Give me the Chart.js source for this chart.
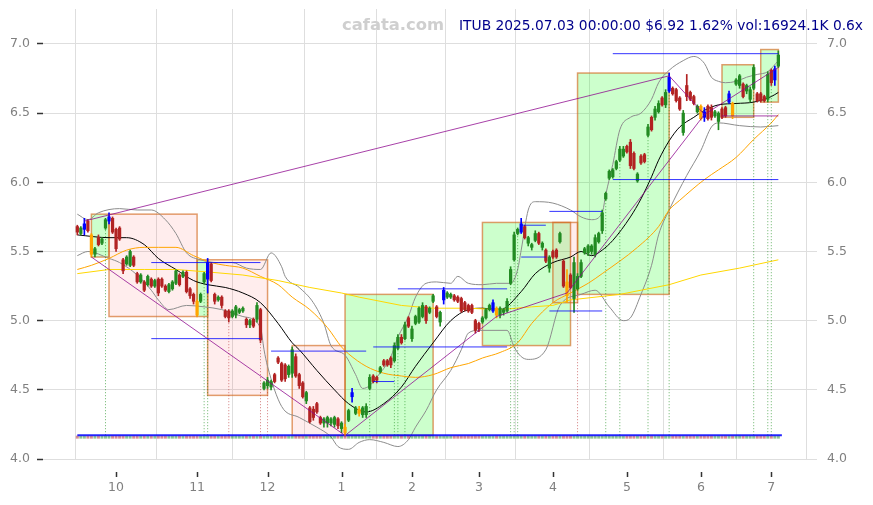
<!DOCTYPE html>
<html>
<head>
<meta charset="utf-8">
<title>ITUB</title>
<script src="https://cdn.jsdelivr.net/npm/chart.js@4.4.1/dist/chart.umd.min.js"></script>
<style>
  html, body { margin: 0; padding: 0; background: #fff; }
  #wrap { width: 873px; height: 505px; }
</style>
</head>
<body>
<div id="wrap"><canvas id="chart" width="873" height="505"></canvas></div>
<script>
// Daily candles, 2024-09-16 .. 2025-07-03 (200 trading days)
const opens = [
  5.68,5.63,5.66,5.72,5.62,5.48,5.60,5.56,5.67,5.72, 5.74,5.66,5.67,5.44,5.41,5.40,5.46,5.34,5.28,5.28,
  5.26,5.30,5.25,5.30,5.30,5.25,5.21,5.23,5.27,5.33, 5.32,5.35,5.23,5.19,5.14,5.14,5.28,5.30,5.41,5.19,
  5.15,5.17,5.07,5.07,5.03,5.04,5.06,5.07,5.01,4.97, 5.01,5.01,5.08,4.51,4.53,4.52,4.61,4.73,4.69,4.68,
  4.61,4.62,4.74,4.61,4.55,4.42,4.37,4.36,4.40,4.30, 4.26,4.26,4.26,4.25,4.29,4.22,4.23,4.28,4.45,4.33,
  4.33,4.32,4.32,4.51,4.60,4.59,4.63,4.71,4.71,4.73, 4.71,4.80,4.88,4.87,5.02,4.87,4.98,4.99,5.03,5.10,
  5.06,5.14,5.10,4.99,5.15,5.17,5.17,5.18,5.17,5.16, 5.13,5.11,5.11,5.00,4.98,4.99,5.02,5.08,5.07,5.09,
  5.04,5.06,5.07,5.27,5.44,5.63,5.64,5.68,5.56,5.53, 5.58,5.63,5.53,5.51,5.38,5.50,5.51,5.57,5.43,5.28,
  5.33,5.16,5.23,5.32,5.49,5.49,5.50,5.48,5.57,5.65, 5.88,6.03,6.04,6.10,6.16,6.19,6.26,6.29,6.21,6.01,
  6.19,6.20,6.34,6.47,6.47,6.51,6.61,6.56,6.66,6.68, 6.67,6.61,6.36,6.70,6.65,6.62,6.51,6.55,6.51,6.55,
  6.54,6.48,6.44,6.53,6.54,6.58,6.57,6.71,6.70,6.71, 6.66,6.60,6.68,6.64,6.64,6.62,6.60,6.81,6.74,6.84
];
const highs = [
  5.69,5.68,5.74,5.73,5.63,5.53,5.62,5.60,5.74,5.78, 5.75,5.67,5.68,5.45,5.47,5.51,5.47,5.35,5.34,5.29,
  5.33,5.31,5.30,5.31,5.31,5.26,5.27,5.29,5.37,5.34, 5.36,5.36,5.24,5.20,5.15,5.20,5.35,5.45,5.42,5.20,
  5.18,5.18,5.08,5.08,5.08,5.11,5.09,5.10,5.02,5.01, 5.02,5.13,5.09,4.56,4.59,4.57,4.62,4.74,4.70,4.69,
  4.68,4.81,4.76,4.62,4.56,4.49,4.38,4.38,4.41,4.31, 4.30,4.31,4.30,4.31,4.30,4.27,4.25,4.36,4.51,4.38,
  4.38,4.38,4.40,4.61,4.61,4.60,4.67,4.72,4.72,4.74, 4.84,4.90,4.90,4.99,5.03,4.96,5.04,5.10,5.13,5.11,
  5.10,5.19,5.11,5.07,5.24,5.21,5.20,5.19,5.18,5.17, 5.14,5.12,5.12,5.01,4.99,5.03,5.09,5.12,5.15,5.10,
  5.10,5.09,5.16,5.39,5.64,5.67,5.74,5.69,5.61,5.56, 5.65,5.64,5.57,5.52,5.47,5.51,5.52,5.64,5.44,5.37,
  5.34,5.46,5.34,5.44,5.53,5.55,5.55,5.62,5.64,5.80, 5.93,6.09,6.10,6.16,6.26,6.26,6.27,6.31,6.22,6.07,
  6.20,6.21,6.42,6.48,6.55,6.59,6.62,6.67,6.79,6.69, 6.68,6.62,6.52,6.78,6.66,6.63,6.56,6.56,6.54,6.56,
  6.56,6.52,6.51,6.54,6.55,6.66,6.58,6.75,6.78,6.72, 6.71,6.69,6.85,6.65,6.65,6.63,6.80,6.82,6.84,6.95
];
const lows = [
  5.62,5.62,5.62,5.64,5.46,5.46,5.54,5.55,5.66,5.70, 5.63,5.50,5.58,5.34,5.40,5.39,5.39,5.27,5.27,5.21,
  5.25,5.24,5.24,5.18,5.24,5.21,5.20,5.22,5.26,5.25, 5.31,5.20,5.16,5.12,5.03,5.13,5.27,5.20,5.28,5.12,
  5.14,5.09,5.02,4.99,5.02,5.02,5.05,5.06,4.95,4.95, 4.95,4.99,4.84,4.50,4.51,4.50,4.55,4.69,4.56,4.56,
  4.59,4.59,4.59,4.51,4.44,4.40,4.26,4.28,4.33,4.25, 4.23,4.23,4.24,4.23,4.22,4.19,4.17,4.27,4.41,4.32,
  4.31,4.30,4.30,4.50,4.55,4.55,4.62,4.67,4.67,4.66, 4.70,4.79,4.83,4.86,4.95,4.85,4.97,4.98,5.02,4.98,
  5.05,5.13,5.02,4.96,5.12,5.16,5.16,5.14,5.13,5.06, 5.07,5.06,5.05,4.91,4.92,4.98,5.01,5.07,5.06,5.02,
  5.02,5.04,5.06,5.26,5.43,5.62,5.63,5.59,5.54,5.51, 5.57,5.55,5.51,5.42,5.35,5.45,5.45,5.56,5.24,5.13,
  5.23,5.06,5.22,5.31,5.48,5.47,5.48,5.46,5.56,5.63, 5.87,6.02,6.03,6.09,6.15,6.18,6.21,6.10,6.09,6.00,
  6.13,6.14,6.33,6.37,6.45,6.50,6.55,6.54,6.65,6.63, 6.58,6.52,6.34,6.59,6.59,6.56,6.50,6.45,6.44,6.45,
  6.45,6.47,6.38,6.46,6.47,6.57,6.46,6.70,6.68,6.61, 6.64,6.58,6.67,6.58,6.58,6.58,6.58,6.70,6.70,6.83
];
const closes = [
  5.64,5.67,5.70,5.65,5.48,5.52,5.55,5.59,5.73,5.75, 5.64,5.52,5.59,5.36,5.46,5.50,5.40,5.28,5.33,5.22,
  5.32,5.25,5.29,5.20,5.25,5.22,5.26,5.28,5.36,5.26, 5.35,5.21,5.18,5.14,5.04,5.19,5.34,5.42,5.29,5.14,
  5.17,5.11,5.03,5.02,5.07,5.10,5.08,5.09,4.97,5.00, 4.96,5.11,4.86,4.55,4.57,4.56,4.56,4.70,4.57,4.58,
  4.67,4.79,4.60,4.53,4.45,4.48,4.27,4.30,4.34,4.26, 4.29,4.30,4.29,4.30,4.24,4.26,4.19,4.35,4.48,4.37,
  4.36,4.37,4.38,4.59,4.56,4.57,4.66,4.68,4.68,4.68, 4.82,4.88,4.84,4.97,4.96,4.94,5.03,5.09,5.11,5.00,
  5.09,5.18,5.03,5.06,5.22,5.20,5.19,5.15,5.14,5.07, 5.08,5.07,5.06,4.93,4.94,5.02,5.08,5.11,5.13,5.04,
  5.09,5.08,5.14,5.37,5.62,5.66,5.70,5.60,5.60,5.55, 5.63,5.56,5.56,5.43,5.46,5.46,5.46,5.63,5.25,5.18,
  5.24,5.42,5.32,5.42,5.52,5.54,5.54,5.60,5.63,5.78, 5.92,6.08,6.09,6.15,6.24,6.24,6.22,6.12,6.10,6.06,
  6.14,6.15,6.40,6.38,6.53,6.57,6.56,6.65,6.76,6.64, 6.59,6.53,6.50,6.62,6.60,6.57,6.55,6.46,6.47,6.46,
  6.47,6.51,6.50,6.47,6.48,6.64,6.48,6.74,6.77,6.62, 6.70,6.67,6.83,6.59,6.59,6.59,6.78,6.72,6.82,6.92
];
// pivot candles drawn in highlight colours
const pivotHighIdx = [2, 9, 37, 78, 104, 118, 126, 168, 178, 185, 198];
const pivotLowIdx = [4, 34, 76, 80, 119, 139, 177, 186];

// x axis: month ticks on first trading day
const monthTickIdx = [11, 34, 54, 75, 95, 114, 135, 156, 177, 197];
const monthLabels = ['10', '11', '12', '1', '2', '3', '4', '5', '6', '7'];
const yTicks = [4.0, 4.5, 5.0, 5.5, 6.0, 6.5, 7.0];

// indicator lines, read as [day index, price]
const ma20 = [[0,5.62],[9,5.60],[14,5.60],[19,5.55],[23,5.45],[28,5.37],[33,5.29],[37,5.26],[42,5.24],[47,5.20],
  [52,5.13],[57,4.98],[61,4.84],[63,4.79],[68,4.64],[73,4.50],[77,4.40],[82,4.34],[87,4.40],[92,4.52],
  [96,4.67],[101,4.84],[106,5.00],[111,5.08],[115,5.09],[120,5.08],[126,5.21],[130,5.34],[135,5.42],[140,5.46],
  [143,5.50],[146,5.47],[149,5.51],[152,5.58],[157,5.75],[160,5.88],[163,6.04],[165,6.16],[168,6.30],[171,6.40],
  [175,6.47],[178,6.52],[182,6.56],[187,6.57],[192,6.58],[197,6.62],[199,6.65]];
const bbUpper = [[0,5.77],[3,5.73],[6,5.78],[12,5.81],[17,5.80],[21,5.80],[25,5.73],[28,5.63],[31,5.49],[35,5.44],
  [40,5.42],[44,5.42],[48,5.38],[52,5.37],[55,5.49],[58,5.39],[59,5.32],[63,5.24],[67,5.13],[70,4.98],
  [72,4.82],[76,4.75],[79,4.61],[81,4.51],[83,4.53],[85,4.59],[89,4.74],[91,4.88],[94,5.03],[96,5.17],
  [99,5.27],[102,5.28],[106,5.27],[108,5.32],[111,5.27],[115,5.26],[119,5.27],[123,5.27],[125,5.37],[126,5.51],
  [128,5.80],[130,5.86],[135,5.85],[140,5.80],[143,5.75],[146,5.73],[149,5.78],[150,5.91],[152,6.13],[154,6.38],
  [157,6.47],[160,6.50],[163,6.60],[165,6.72],[168,6.81],[172,6.88],[175,6.91],[178,6.86],[180,6.76],[182,6.73],
  [184,6.72],[187,6.73],[190,6.76],[193,6.78],[196,6.80],[199,6.88]];
const bbLower = [[0,5.47],[3,5.50],[9,5.45],[12,5.42],[17,5.33],[21,5.22],[23,5.15],[26,5.08],[31,5.11],[36,5.10],
  [41,5.08],[47,5.03],[52,4.95],[53,4.79],[54,4.67],[58,4.38],[63,4.30],[68,4.23],[72,4.16],[74,4.09],
  [77,4.07],[80,4.12],[83,4.14],[87,4.12],[91,4.09],[94,4.14],[96,4.23],[99,4.35],[102,4.50],[106,4.64],
  [109,4.79],[111,4.91],[114,4.93],[122,4.93],[124,4.81],[126,4.74],[128,4.72],[133,4.79],[137,5.11],[143,5.19],
  [147,5.22],[151,5.10],[155,5.00],[157,5.02],[160,5.19],[163,5.40],[165,5.62],[168,5.80],[173,6.05],[177,6.23],
  [180,6.40],[182,6.43],[188,6.41],[194,6.40],[199,6.41]];
const ma50 = [[0,5.37],[4,5.40],[9,5.45],[14,5.51],[19,5.53],[23,5.53],[28,5.53],[33,5.47],[38,5.42],[42,5.40],
  [47,5.38],[52,5.32],[57,5.26],[61,5.17],[66,5.08],[71,4.95],[75,4.81],[77,4.76],[82,4.67],[87,4.62],
  [92,4.60],[96,4.59],[101,4.61],[106,4.66],[111,4.69],[115,4.73],[120,4.77],[125,4.84],[129,4.98],[135,5.13],
  [140,5.20],[145,5.27],[149,5.34],[159,5.53],[165,5.68],[168,5.80],[171,5.87],[178,6.02],[182,6.09],[187,6.18],
  [192,6.31],[197,6.43],[199,6.49]];
const ma120 = [[0,5.34],[9,5.37],[19,5.37],[28,5.37],[38,5.35],[47,5.33],[57,5.29],[66,5.24],[75,5.20],[80,5.17],
  [92,5.11],[101,5.09],[111,5.09],[120,5.08],[129,5.10],[135,5.11],[140,5.15],[154,5.19],[168,5.26],[177,5.33],
  [188,5.38],[199,5.44]];

// range boxes
const boxStart  = [4, 9, 34, 37, 61, 76, 115, 135, 142, 183, 194];
const boxEnd    = [9, 34, 37, 54, 76, 101, 140, 142, 168, 192, 199];
const boxTop    = [5.77, 5.77, 5.44, 5.44, 4.82, 5.19, 5.71, 5.71, 6.79, 6.85, 6.96];
const boxBottom = [5.46, 5.03, 5.03, 4.46, 4.17, 4.17, 4.82, 5.13, 5.19, 6.47, 6.58];
const boxUp     = [true, false, true, false, false, true, true, false, true, true, true];

// blue level lines
const levelFrom  = [21, 21, 55, 84, 84, 91, 126, 126, 134, 134, 152, 152];
const levelTo    = [52, 52, 82, 90, 122, 122, 133, 133, 149, 149, 199, 199];
const levelPrice = [5.42, 4.87, 4.78, 4.56, 4.81, 5.23, 5.69, 5.46, 5.79, 5.07, 6.93, 6.02];

// purple trend lines
const trendFrom    = [2, 4, 76, 119, 139, 168, 178, 183];
const trendFromVal = [5.72, 5.46, 4.17, 5.03, 5.20, 6.77, 6.49, 6.48];
const trendTo      = [168, 76, 119, 139, 178, 178, 199, 199];
const trendToVal   = [6.77, 4.17, 5.03, 5.20, 6.49, 6.49, 6.83, 6.48];

// dotted signal markers
const signalUpIdx = [8, 36, 37, 83, 90, 91, 93, 123, 124, 125, 150, 154, 162, 168, 192, 196, 197];
const signalDownIdx = [43, 52, 54, 142];
const baseLevel = 4.172;
const dayMarkLevel = 4.158;

const UP = '#228b22';
const DOWN = '#b22222';
const GRID = '#dedede';
const LABEL = '#808080';
const FONT = 'DejaVu Sans';

const days = closes.map((_, i) => i);

function candleColor(i) {
  if (pivotHighIdx.includes(i)) return '#0000ff';
  if (pivotLowIdx.includes(i)) return '#ffa500';
  return closes[i] >= opens[i] ? UP : DOWN;
}

function toPoints(pairs) {
  return pairs.map(([x, y]) => ({ x, y }));
}

// several segments in one dataset, separated by gaps
function segments(x1, y1, x2, y2) {
  const out = [];
  x1.forEach((x, i) => {
    out.push({ x, y: y1[i] }, { x: x2[i], y: y2[i] }, { x: x2[i], y: null });
  });
  return out;
}

function lineSet(data, color, order, extra) {
  return Object.assign({
    type: 'line',
    data,
    borderColor: color,
    borderWidth: 1,
    pointRadius: 0,
    fill: false,
    spanGaps: false,
    order
  }, extra || {});
}

// y axes: fixed width, no extra label padding above/below the plot
function fitY(width) {
  return s => {
    s.width = width;
    s.paddingTop = 0;
    s.paddingBottom = 0;
  };
}

const boxPlugin = {
  id: 'boxes',
  beforeDatasetsDraw(chart) {
    const { ctx } = chart;
    const xs = chart.scales.x;
    const ys = chart.scales.y;
    ctx.save();
    boxStart.forEach((s, i) => {
      const x1 = xs.getPixelForValue(s);
      const x2 = xs.getPixelForValue(boxEnd[i]);
      const y1 = ys.getPixelForValue(boxTop[i]);
      const y2 = ys.getPixelForValue(boxBottom[i]);
      ctx.fillStyle = boxUp[i] ? 'rgba(0,255,0,0.2)' : 'rgba(255,0,0,0.07)';
      ctx.fillRect(x1, y1, x2 - x1, y2 - y1);
      ctx.strokeStyle = 'rgba(210,105,30,0.65)';
      ctx.lineWidth = 1.5;
      ctx.strokeRect(x1, y1, x2 - x1, y2 - y1);
    });
    ctx.restore();
  }
};

const textPlugin = {
  id: 'texts',
  afterDraw(chart) {
    const { ctx, chartArea } = chart;
    const xs = chart.scales.x;
    ctx.save();
    // x tick marks sit a little below the plot
    ctx.strokeStyle = '#333';
    ctx.lineWidth = 1.5;
    monthTickIdx.forEach(v => {
      const x = Math.round(xs.getPixelForValue(v)) + 0.5;
      ctx.beginPath();
      ctx.moveTo(x, chartArea.bottom + 13);
      ctx.lineTo(x, chartArea.bottom + 18);
      ctx.stroke();
    });
    ctx.textBaseline = 'middle';
    ctx.font = 'bold 16.4px "' + FONT + '"';
    ctx.fillStyle = '#cfcfcf';
    ctx.textAlign = 'left';
    ctx.fillText('cafata.com', 342, 26);
    ctx.font = '13.8px "' + FONT + '"';
    ctx.fillStyle = '#00008b';
    ctx.textAlign = 'right';
    ctx.fillText('ITUB 2025.07.03 00:00:00 $6.92 1.62% vol:16924.1K 0.6x', 863, 26);
    ctx.restore();
  }
};

const datasets = [
  lineSet(toPoints(ma120), '#ffd700', 10),
  lineSet(toPoints(ma50), '#ffa500', 10, { cubicInterpolationMode: 'monotone' }),
  lineSet(toPoints(bbUpper), '#8c8c8c', 10, { cubicInterpolationMode: 'monotone' }),
  lineSet(toPoints(bbLower), '#8c8c8c', 10, { cubicInterpolationMode: 'monotone' }),
  lineSet(toPoints(ma20), '#000000', 10, { cubicInterpolationMode: 'monotone' }),
  lineSet(segments(signalUpIdx, signalUpIdx.map(() => baseLevel), signalUpIdx, signalUpIdx.map(i => lows[i])),
    'rgba(0,128,0,0.6)', 9, { borderDash: [1, 2] }),
  lineSet(segments(signalDownIdx, signalDownIdx.map(() => baseLevel), signalDownIdx, signalDownIdx.map(i => lows[i])),
    'rgba(178,34,34,0.6)', 9, { borderDash: [1, 2] }),
  lineSet(days.map(i => ({ x: i, y: dayMarkLevel })), 'transparent', 8, {
    showLine: false,
    pointStyle: 'rect',
    pointRadius: 2.1,
    pointBorderWidth: 0,
    pointBackgroundColor: days.map(i => closes[i] >= opens[i] ? 'rgba(34,139,34,0.5)' : 'rgba(178,34,34,0.5)')
  }),
  lineSet([{ x: 0, y: baseLevel }, { x: 200, y: baseLevel }], 'rgba(0,0,255,0.85)', 7, { borderWidth: 2 }),
  {
    type: 'bar',
    data: days.map(i => ({ x: i, y: [lows[i], highs[i]] })),
    backgroundColor: days.map(candleColor),
    barThickness: 1,
    grouped: false,
    borderWidth: 0,
    order: 4
  },
  {
    type: 'bar',
    data: days.map(i => {
      const lo = Math.min(opens[i], closes[i]);
      const hi = Math.max(opens[i], closes[i]);
      return { x: i, y: [lo, Math.max(hi, lo + 0.006)] };
    }),
    backgroundColor: days.map(candleColor),
    barThickness: 2.6,
    grouped: false,
    borderWidth: 0,
    order: 3
  },
  lineSet(segments(trendFrom, trendFromVal, trendTo, trendToVal), 'rgba(139,0,139,0.75)', 2),
  lineSet(segments(levelFrom, levelPrice, levelTo, levelPrice), 'rgba(0,0,255,0.8)', 1)
];

new Chart(document.getElementById('chart').getContext('2d'), {
  type: 'bar',
  data: { datasets },
  options: {
    responsive: false,
    animation: false,
    devicePixelRatio: 1,
    layout: { padding: { top: 9, left: 0, right: 0, bottom: 0 } },
    plugins: { legend: { display: false }, tooltip: { enabled: false } },
    scales: {
      x: {
        type: 'linear',
        position: 'bottom',
        min: -9.74,
        max: 209.97,
        offset: false,
        grid: { color: GRID, drawTicks: false },
        border: { display: false },
        ticks: {
          color: LABEL,
          padding: 21,
          autoSkip: false,
          maxRotation: 0,
          font: { family: FONT, size: 12.5 },
          callback: (v, i) => monthLabels[i]
        },
        afterBuildTicks: s => { s.ticks = monthTickIdx.map(v => ({ value: v })); },
        afterFit: s => { s.height = 46; s.paddingLeft = 0; s.paddingRight = 0; }
      },
      y: {
        type: 'linear',
        position: 'left',
        min: 4.0,
        max: 7.253,
        grid: { color: GRID, drawTicks: true, tickLength: 6, tickColor: '#333', tickWidth: 1.5 },
        border: { display: false },
        ticks: {
          color: LABEL,
          padding: 7,
          font: { family: FONT, size: 12.5 },
          callback: v => Number(v).toFixed(1)
        },
        afterBuildTicks: s => { s.ticks = yTicks.map(v => ({ value: v })); },
        afterFit: fitY(43)
      },
      y2: {
        type: 'linear',
        position: 'right',
        min: 4.0,
        max: 7.253,
        grid: { display: false, drawTicks: false },
        border: { display: false },
        ticks: {
          color: LABEL,
          padding: 10,
          font: { family: FONT, size: 12.5 },
          callback: v => Number(v).toFixed(1)
        },
        afterBuildTicks: s => { s.ticks = yTicks.map(v => ({ value: v })); },
        afterFit: fitY(56)
      }
    }
  },
  plugins: [boxPlugin, textPlugin]
});
</script>
</body>
</html>
